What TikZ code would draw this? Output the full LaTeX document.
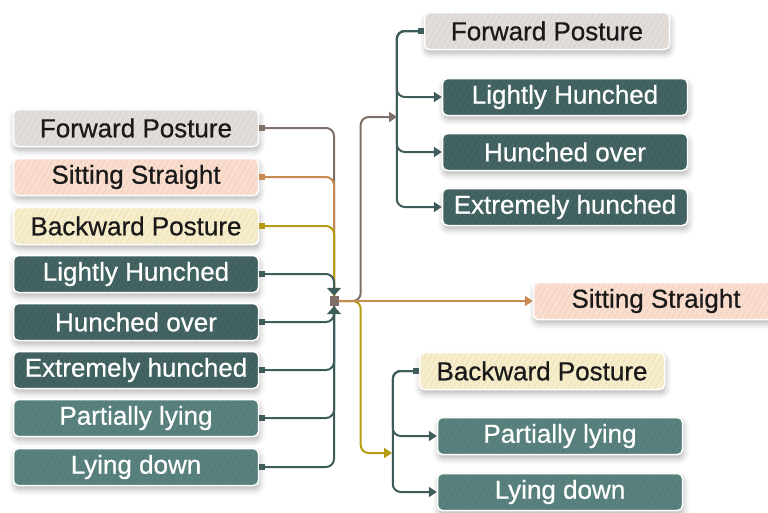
\documentclass[tikz,border=0pt]{standalone}
\usepackage{fontspec}
\setmainfont{Liberation Sans}
\newfontfamily\postfont{Liberation Sans}[FakeBold=0.6]
\usetikzlibrary{arrows.meta,shadows.blur,patterns.meta}

\definecolor{fwdfill}{HTML}{E3DDDA}
\definecolor{fwdhatch}{HTML}{D7CFCA}
\definecolor{sitfill}{HTML}{F9DECF}
\definecolor{sithatch}{HTML}{F2CDB8}
\definecolor{bckfill}{HTML}{F6EDCC}
\definecolor{bckhatch}{HTML}{EDDFAE}
\definecolor{darkteal}{HTML}{40615F}
\definecolor{darkhatch}{HTML}{4A6C6A}
\definecolor{liteteal}{HTML}{567F7C}
\definecolor{litehatch}{HTML}{608986}
\definecolor{fwdline}{HTML}{7E6F68}
\definecolor{sitline}{HTML}{C78A50}
\definecolor{bckline}{HTML}{B59C10}
\definecolor{tealline}{HTML}{3D5C5A}

\tikzset{
    box/.style={rounded corners=5pt, draw=white, line width=1.5pt,
        minimum width=245pt, minimum height=37pt, inner sep=0pt,
        font=\postfont\fontsize{26}{30}\selectfont,
        blur shadow={shadow xshift=1pt, shadow yshift=-4pt,
            shadow blur radius=6pt, shadow opacity=30, shadow blur steps=6}},
    hatch/.style n args={2}{preaction={fill=#1},
        preaction={pattern={Lines[angle=60,distance=5pt,line width=0.6pt]},
        pattern color=#2}},
    fwdbox/.style={box, hatch={fwdfill}{fwdhatch}, text=black!90},
    sitbox/.style={box, hatch={sitfill}{sithatch}, text=black!90},
    bckbox/.style={box, hatch={bckfill}{bckhatch}, text=black!90},
    darkbox/.style={box, hatch={darkteal}{darkhatch}, text=white},
    litebox/.style={box, hatch={liteteal}{litehatch}, text=white},
    hub/.style={fill=fwdline, minimum width=9pt, minimum height=10pt, inner sep=0pt},
    link/.style={line width=2pt, rounded corners=8pt},
    sq/.style={{Square[length=6pt,width=6pt]}-},
    tip/.style={-{Triangle[length=8pt,width=10pt]}},
    sqtip/.style={{Square[length=6pt,width=6pt]}-{Triangle[length=8pt,width=10pt]}},
    hubtip/.style={{Square[length=6pt,width=6pt]}-{Triangle[length=8pt,width=14pt]}},
}

\begin{document}
\begin{tikzpicture}[x=1pt,y=-1pt]
    \useasboundingbox (0,0) rectangle (768,512);

    % left column
    \node[fwdbox] (fp1) at (136,128) {Forward Posture};
    \node[sitbox] (ss1) at (136,177) {Sitting Straight};
    \node[bckbox] (bp1) at (136,226) {Backward Posture};
    \node[darkbox] (lh1) at (136,274) {Lightly Hunched};
    \node[darkbox] (ho1) at (136,322) {Hunched over};
    \node[darkbox] (eh1) at (136,370) {Extremely hunched};
    \node[litebox] (pl1) at (136,418) {Partially lying};
    \node[litebox] (ld1) at (136,467) {Lying down};

    \node[hub] (hub) at (334,301) {};

    \draw[link, fwdline, sq] (fp1.east) -| (hub.north);
    \draw[link, sitline, sq] (ss1.east) -| (hub.north);
    \draw[link, bckline, sq] (bp1.east) -| (hub.north);
    \draw[link, tealline, hubtip] (lh1.east) -| (hub.north);
    \draw[link, tealline, sq] (ld1.east) -| (hub.south);
    \draw[link, tealline, sq] (pl1.east) -| (hub.south);
    \draw[link, tealline, sq] (eh1.east) -| (hub.south);
    \draw[link, tealline, hubtip] (ho1.east) -| (hub.south);

    % forward posture group
    \node[fwdbox] (fp2) at (547,31) {Forward Posture};
    \node[darkbox] (lh2) at (565,97) {Lightly Hunched};
    \node[darkbox] (ho2) at (565,152) {Hunched over};
    \node[darkbox] (eh2) at (565,207) {Extremely hunched};
    \coordinate (fjoin) at (397,117);

    \draw[link, tealline, sqtip] (fp2.west) -- ++(-27,0) |- (lh2.west);
    \draw[link, tealline, sqtip] (fp2.west) -- ++(-27,0) |- (ho2.west);
    \draw[link, tealline, sqtip] (fp2.west) -- ++(-27,0) |- (eh2.west);

    % sitting straight
    \node[sitbox] (ss2) at (656,301) {Sitting Straight};

    % backward posture group
    \node[bckbox] (bp2) at (542,371) {Backward Posture};
    \node[litebox] (pl2) at (560,436) {Partially lying};
    \node[litebox] (ld2) at (560,492) {Lying down};
    \coordinate (bjoin) at (392,453);

    \draw[link, tealline, sqtip] (bp2.west) -- ++(-26,0) |- (pl2.west);
    \draw[link, tealline, sqtip] (bp2.west) -- ++(-26,0) |- (ld2.west);

    % out of the hub
    \draw[link, fwdline, tip] (hub.east) -- ++(22,0) |- (fjoin);
    \draw[link, bckline, tip] (hub.east) -- ++(22,0) |- (bjoin);
    \draw[link, sitline, tip] (hub.east) -- (ss2.west);
\end{tikzpicture}
\end{document}
